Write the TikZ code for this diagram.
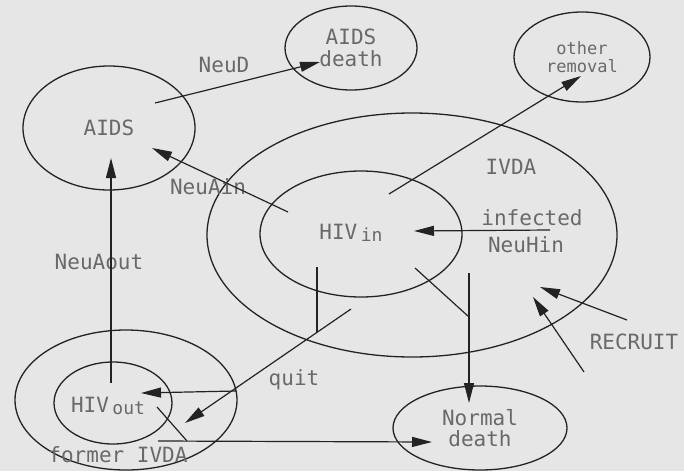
\documentclass[tikz,border=0pt]{standalone}
\usepackage{fontspec}
\setmonofont{DejaVu Sans Mono}
\usetikzlibrary{shapes.geometric,arrows.meta}
\definecolor{bg}{RGB}{230,230,230}
\definecolor{ink}{RGB}{35,35,35}
\definecolor{txt}{RGB}{105,105,105}
\begin{document}
\begin{tikzpicture}[x=1pt,y=-1pt,
  oval/.style={ellipse,draw=ink,line width=1.3pt,inner sep=0pt,text=txt,align=center,
     font=\ttfamily\fontsize{21}{25}\selectfont},
  lbl/.style={text=txt,font=\ttfamily\fontsize{21}{25}\selectfont,inner sep=0pt,align=center},
  small/.style={font=\ttfamily\fontsize{17}{18}\selectfont},
  flow/.style={draw=ink,line width=1.2pt,-{Triangle[length=20pt,width=10pt]}},
  seg/.style={draw=ink,line width=1.2pt}]
\fill[bg] (0,0) rectangle (684,471);
\useasboundingbox (0,0) rectangle (684,471);

% ellipses
\node[oval,minimum width=172pt,minimum height=124pt] (aids) at (109,128) {AIDS};
\node[oval,minimum width=132pt,minimum height=84pt] (aidsd) at (351,48) {AIDS\\[-3pt]death};
\node[oval,minimum width=136pt,minimum height=90pt,small] (other) at (582,57) {other\\removal};
\node[oval,minimum width=410pt,minimum height=244pt] (ivda) at (412,235) {};
\node[oval,minimum width=202pt,minimum height=126pt] (hivin) at (361,234) {};
\node[oval,minimum width=222pt,minimum height=140pt] (former) at (126,400) {};
\node[oval,minimum width=118pt,minimum height=82pt] (hivout) at (113,403) {};
\node[oval,minimum width=174pt,minimum height=84pt] (normal) at (480,428) {Normal\\[-4pt]death};

% texts
\node[lbl] (thivin) at (351,233) {HIV\,\raisebox{-2pt}{\fontsize{18}{18}\selectfont in}};
\node[lbl] (thivout) at (108,406) {HIV\,\raisebox{-2pt}{\fontsize{18}{18}\selectfont out}};
\node[lbl] (tivda) at (511,167) {IVDA};
\node[lbl] (tformer) at (118,455) {former IVDA};
\node[lbl] (tneud) at (224,65) {NeuD};
\node[lbl] (tneuain) at (208,187) {NeuAin};
\node[lbl] (tneuaout) at (99,262) {NeuAout};
\node[lbl] (tinf) at (532,218) {infected};
\node[lbl] (tneuhin) at (526,245) {NeuHin};
\node[lbl] (trecruit) at (634,342) {RECRUIT};
\node[lbl] (tquit) at (294,380) {quit};

% connector ends
\coordinate (d1) at (155,103);  \coordinate (d2) at (320,62);
\coordinate (ai1) at (288,212); \coordinate (ai2) at (152,148);
\coordinate (ao1) at (111,383); \coordinate (ao2) at (111,158);
\coordinate (o1) at (389,194);  \coordinate (o2) at (581,76);
\coordinate (h1) at (550,230);  \coordinate (h2) at (414,231);
\coordinate (ra1) at (627,320); \coordinate (ra2) at (540,287);
\coordinate (rb1) at (584,372); \coordinate (rb2) at (533,297);
\coordinate (n1) at (469,273);  \coordinate (n2) at (469,403);
\coordinate (nd1) at (415,268); \coordinate (nd2) at (469,317);
\coordinate (q1) at (317,267);  \coordinate (q2) at (317,332);
\coordinate (qd1) at (351,309); \coordinate (qd2) at (185,423);
\coordinate (qh1) at (236,391); \coordinate (qh2) at (141,393);
\coordinate (f1) at (158,441);  \coordinate (f2) at (432,442);
\coordinate (fd1) at (157,407); \coordinate (fd2) at (187,441);

% connectors
\draw[flow] (d1) -- (d2);
\draw[flow] (ai1) -- (ai2);
\draw[flow] (ao1) -- (ao2);
\draw[flow] (o1) -- (o2);
\draw[flow] (h1) -- (h2);
\draw[flow] (ra1) -- (ra2);
\draw[flow] (rb1) -- (rb2);
\draw[flow] (n1) -- (n2);
\draw[seg] (nd1) -- (nd2);
\draw[seg] (q1) -- (q2);
\draw[flow] (qd1) -- (qd2);
\draw[flow] (qh1) -- (qh2);
\draw[flow] (f1) -- (f2);
\draw[seg] (fd1) -- (fd2);
\end{tikzpicture}
\end{document}
